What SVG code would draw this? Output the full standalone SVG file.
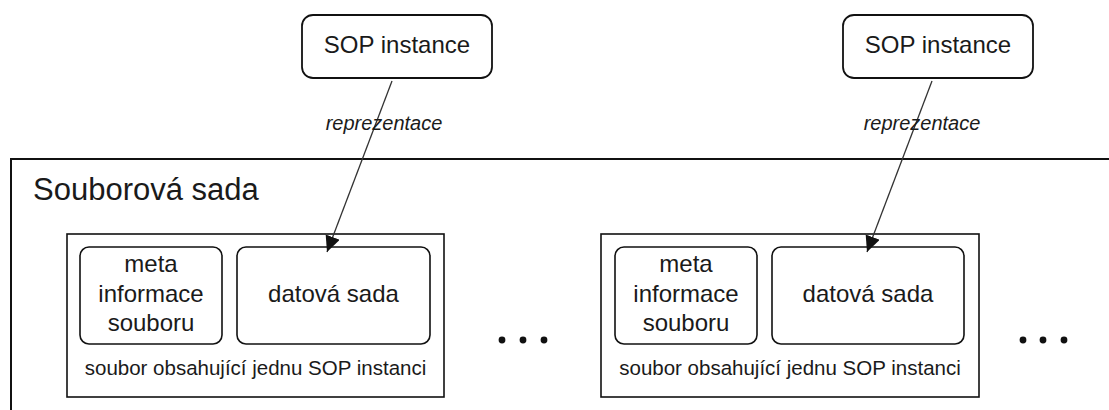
<svg xmlns="http://www.w3.org/2000/svg" width="1109" height="410" viewBox="0 0 1109 410">
  <defs>
    <marker id="arrowhead" markerUnits="userSpaceOnUse" markerWidth="18" markerHeight="16" refX="16" refY="7.5" orient="auto">
      <path d="M0,0 L16,7.5 L0,15 z" fill="#111"/>
    </marker>
    <style>
      .frame { fill: #fff; stroke: #111; stroke-width: 2; }
      .file { fill: #fff; stroke: #111; stroke-width: 1.6; }
      .part { fill: #fff; stroke: #111; stroke-width: 1.6; }
      .sop { fill: #fff; stroke: #111; stroke-width: 1.8; }
      .txt { font-family: "Liberation Sans", Arial, sans-serif; fill: #1a1a1a; text-anchor: middle; }
      .big { font-size: 24px; }
      .title { font-size: 31px; text-anchor: start; }
      .cap { font-size: 20.5px; }
      .lbl { font-size: 20px; font-style: italic; }
      .link { fill: none; stroke: #333; stroke-width: 1.3; marker-end: url(#arrowhead); }
      .dot { fill: #111; }
    </style>
  </defs>

  <!-- file set container, open to the right and bottom -->
  <g id="file-set">
    <rect class="frame" x="11" y="159" width="1120" height="270"/>
    <text class="txt title" x="33" y="200">Souborová sada</text>
  </g>

  <!-- first file -->
  <g id="file-1">
    <rect class="file" x="67" y="234" width="377" height="163"/>
    <text class="txt cap" x="255.5" y="375">soubor obsahující jednu SOP instanci</text>
  </g>
  <g id="meta-1">
    <rect class="part" x="80" y="247" width="142" height="97" rx="9"/>
    <text class="txt big" x="151" y="272">meta</text>
    <text class="txt big" x="151" y="302">informace</text>
    <text class="txt big" x="151" y="331">souboru</text>
  </g>
  <g id="dataset-1">
    <rect class="part" x="237" y="247" width="193" height="97" rx="9"/>
    <text class="txt big" x="333.5" y="302">datová sada</text>
  </g>

  <!-- second file -->
  <g id="file-2">
    <rect class="file" x="601" y="234" width="378" height="163"/>
    <text class="txt cap" x="790" y="375">soubor obsahující jednu SOP instanci</text>
  </g>
  <g id="meta-2">
    <rect class="part" x="615" y="247" width="142" height="97" rx="9"/>
    <text class="txt big" x="686" y="272">meta</text>
    <text class="txt big" x="686" y="302">informace</text>
    <text class="txt big" x="686" y="331">souboru</text>
  </g>
  <g id="dataset-2">
    <rect class="part" x="772" y="247" width="192" height="97" rx="9"/>
    <text class="txt big" x="868" y="302">datová sada</text>
  </g>

  <!-- ellipses -->
  <g id="more-1">
    <circle class="dot" cx="502" cy="340" r="3.4"/>
    <circle class="dot" cx="523" cy="340" r="3.4"/>
    <circle class="dot" cx="544" cy="340" r="3.4"/>
  </g>
  <g id="more-2">
    <circle class="dot" cx="1023" cy="340" r="3.4"/>
    <circle class="dot" cx="1043" cy="340" r="3.4"/>
    <circle class="dot" cx="1064" cy="340" r="3.4"/>
  </g>

  <!-- SOP instances -->
  <g id="sop-1">
    <rect class="sop" x="302" y="15" width="190" height="63" rx="11"/>
    <text class="txt big" x="397" y="53">SOP instance</text>
  </g>
  <g id="sop-2">
    <rect class="sop" x="843" y="15" width="190" height="63" rx="11"/>
    <text class="txt big" x="938" y="53">SOP instance</text>
  </g>

  <!-- representation links -->
  <g id="connectors">
    <path class="link" d="M392,81 L327,252"/>
    <text class="txt lbl" x="384" y="130">reprezentace</text>
    <path class="link" d="M932,81 L867,252"/>
    <text class="txt lbl" x="922" y="130">reprezentace</text>
  </g>
</svg>
